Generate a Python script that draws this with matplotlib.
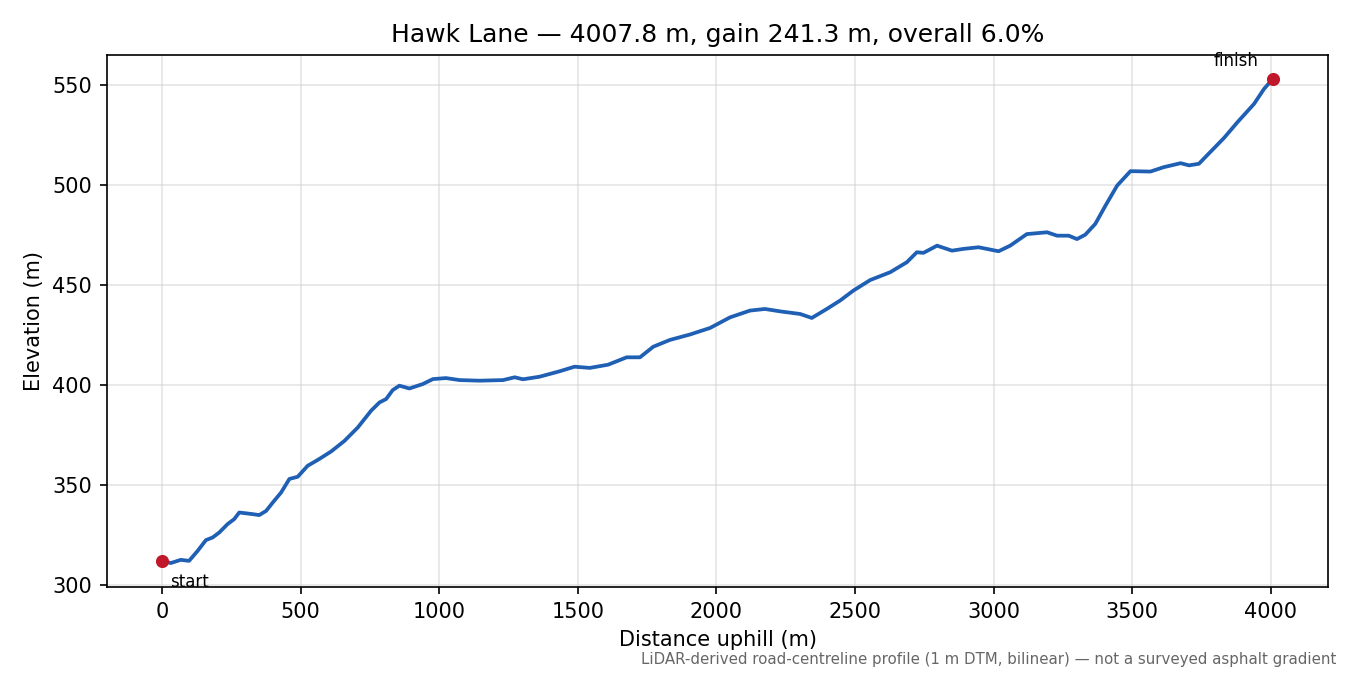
import numpy as np
import matplotlib
matplotlib.use("Agg")
import matplotlib.pyplot as plt

# profile (distance along road, elevation)
dist = [0, 31, 67, 97, 128, 158, 182, 206, 236, 260, 278, 308, 326, 350, 375,
        399, 429, 459, 489, 525, 567, 610, 658, 706, 754, 784, 808, 832, 856,
        892, 940, 977, 1024, 1073, 1145, 1230, 1272, 1302, 1362, 1434, 1488,
        1543, 1609, 1676, 1724, 1772, 1832, 1904, 1977, 2049, 2121, 2175, 2235,
        2302, 2344, 2398, 2446, 2494, 2555, 2627, 2687, 2723, 2747, 2796, 2850,
        2892, 2946, 3018, 3060, 3120, 3193, 3229, 3271, 3301, 3331, 3367, 3404,
        3446, 3494, 3566, 3614, 3675, 3705, 3741, 3766, 3832, 3880, 3940, 3976,
        4007.8]
elev = [312.0, 310.9, 312.5, 312.0, 317.0, 322.4, 323.7, 326.2, 330.4, 332.9,
        336.2, 335.7, 335.4, 334.9, 337.0, 341.2, 346.2, 353.0, 354.1, 359.6,
        363.0, 366.8, 372.1, 378.8, 387.2, 391.3, 393.0, 397.5, 399.7, 398.3,
        400.5, 403.0, 403.5, 402.5, 402.2, 402.5, 403.9, 402.9, 404.2, 406.9,
        409.2, 408.6, 410.2, 413.9, 413.9, 419.2, 422.6, 425.3, 428.6, 433.9,
        437.3, 438.1, 436.8, 435.6, 433.6, 438.1, 442.3, 447.3, 452.6, 456.5,
        461.5, 466.5, 466.2, 469.8, 467.3, 468.2, 469.0, 467.0, 469.8, 475.6,
        476.5, 474.8, 474.8, 473.1, 475.3, 480.7, 489.9, 499.9, 507.1, 506.9,
        509.1, 511.1, 510.0, 510.8, 514.4, 523.8, 531.6, 540.8, 548.3, 553.3]

dist = np.array(dist)
elev = np.array(elev)

fig, ax = plt.subplots(figsize=(9, 4.5), dpi=150)
fig.subplots_adjust(left=0.079, right=0.984, top=0.919, bottom=0.130)

ax.plot(dist, elev, color="#1f5fb4", lw=1.8, solid_joinstyle="round")
ax.scatter([dist[0], dist[-1]], [elev[0], elev[-1]], color="#c0182a", s=28, zorder=3)
ax.annotate("start", (dist[0], elev[0]), xytext=(4, -6), textcoords="offset points",
            ha="left", va="top", fontsize=8)
ax.annotate("finish", (dist[-1], elev[-1]), xytext=(-7, 4.5), textcoords="offset points",
            ha="right", va="bottom", fontsize=8)

ax.grid(True, color="#cccccc", alpha=0.5, lw=0.8)
ax.set_xlabel("Distance uphill (m)", fontsize=10)
ax.set_ylabel("Elevation (m)", fontsize=10)
ax.tick_params(labelsize=10)
ax.set_title("Hawk Lane — 4007.8 m, gain 241.3 m, overall 6.0%", fontsize=12)

fig.text(0.99, 0.012, "LiDAR-derived road-centreline profile (1 m DTM, bilinear) — not a surveyed asphalt gradient",
         ha="right", va="bottom", fontsize=7.2, color="#666666")

fig.savefig("out.png")
